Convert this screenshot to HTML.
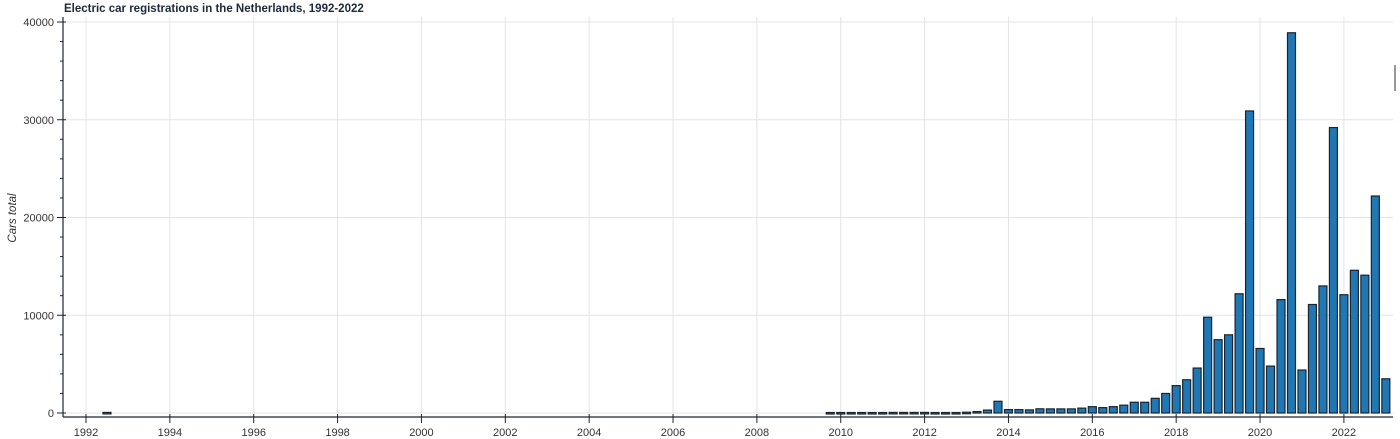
<!DOCTYPE html>
<html><head><meta charset="utf-8"><style>
html,body{margin:0;padding:0;background:#fff;}
svg{display:block;font-family:"Liberation Sans",Arial,sans-serif;}
</style></head><body>
<svg id="chart" width="1400" height="439" viewBox="0 0 1400 439">
<text x="64" y="12" font-size="11.5" font-weight="bold" fill="#1c2a3a">Electric car registrations in the Netherlands, 1992-2022</text>
<text transform="translate(16,218) rotate(-90)" text-anchor="middle" font-size="11.5" font-style="italic" fill="#333">Cars total</text>
<g id="grid"></g><g id="bars"></g><g id="axes"></g>
<rect x="1394" y="65" width="2" height="26" fill="#999"/>
</svg>
<script>
const xTicks = [1992,1994,1996,1998,2000,2002,2004,2006,2008,2010,2012,2014,2016,2018,2020,2022];
const yTicks = [0,10000,20000,30000,40000];
const periods = [1992.5,2009.75,2010,2010.25,2010.5,2010.75,2011,2011.25,2011.5,2011.75,2012,2012.25,2012.5,2012.75,2013,2013.25,2013.5,2013.75,2014,2014.25,2014.5,2014.75,2015,2015.25,2015.5,2015.75,2016,2016.25,2016.5,2016.75,2017,2017.25,2017.5,2017.75,2018,2018.25,2018.5,2018.75,2019,2019.25,2019.5,2019.75,2020,2020.25,2020.5,2020.75,2021,2021.25,2021.5,2021.75,2022,2022.25,2022.5,2022.75,2023];
const carsTotal = [60,50,50,50,50,50,50,60,60,60,60,50,50,50,80,150,300,1200,350,350,320,430,420,420,420,500,650,550,650,800,1100,1100,1500,2000,2800,3400,4600,9800,7500,8000,12200,30900,6600,4800,11600,38900,4400,11100,13000,29200,12100,14600,14100,22200,3500];
const NS='http://www.w3.org/2000/svg';
const x0=63,x1=1393,yTop=17,yBase=413,axisY=417;
const xs=v=>86+(v-1992)*41.93;
const ys=v=>yBase-v*(413-22)/40000;
function mk(t,a,p){const e=document.createElementNS(NS,t);for(const k in a)e.setAttribute(k,a[k]);p.appendChild(e);return e;}
const grid=document.getElementById('grid'),bars=document.getElementById('bars'),axes=document.getElementById('axes');
xTicks.forEach(t=>{const l=mk('line',{x1:xs(t),x2:xs(t),y1:yTop,y2:axisY,stroke:'#e4e4e4','stroke-width':1},grid);

});
yTicks.forEach(t=>{const l=mk('line',{x1:x0,x2:x1,y1:ys(t),y2:ys(t),stroke:'#e4e4e4','stroke-width':1},grid);

});
const bw=8;
periods.forEach((p,i)=>{const v=carsTotal[i];const y=ys(v);
const r=mk('rect',{x:xs(p)-bw/2,y:y,width:bw,height:Math.max(1.5,yBase-y),fill:'#1f77b4',stroke:'#1a2530','stroke-width':1.2},bars);

});
const ya=mk('line',{x1:x0,x2:x0,y1:yTop,y2:axisY,stroke:'#1a2530','stroke-width':1.2},axes);


const xa=mk('line',{x1:x0,x2:x1,y1:axisY,y2:axisY,stroke:'#1a2530','stroke-width':1.2},axes);


for(let v=0;v<=40000;v+=2000){const major=v%10000===0;mk('line',{x1:x0-(major?6:3),x2:x0+(major?3:0),y1:ys(v),y2:ys(v),stroke:'#1a2530','stroke-width':1},axes);}
yTicks.forEach(t=>{const tx=mk('text',{x:x0-9,y:ys(t)+4,'text-anchor':'end','font-size':11,fill:'#333'},axes);tx.textContent=t;

});
xTicks.forEach(t=>{mk('line',{x1:xs(t),x2:xs(t),y1:axisY-3,y2:axisY+6,stroke:'#1a2530','stroke-width':1},axes);});
xTicks.forEach(t=>{const tx=mk('text',{x:xs(t),y:436,'text-anchor':'middle','font-size':11,fill:'#333'},axes);tx.textContent=t;

});
</script>
</body></html>
